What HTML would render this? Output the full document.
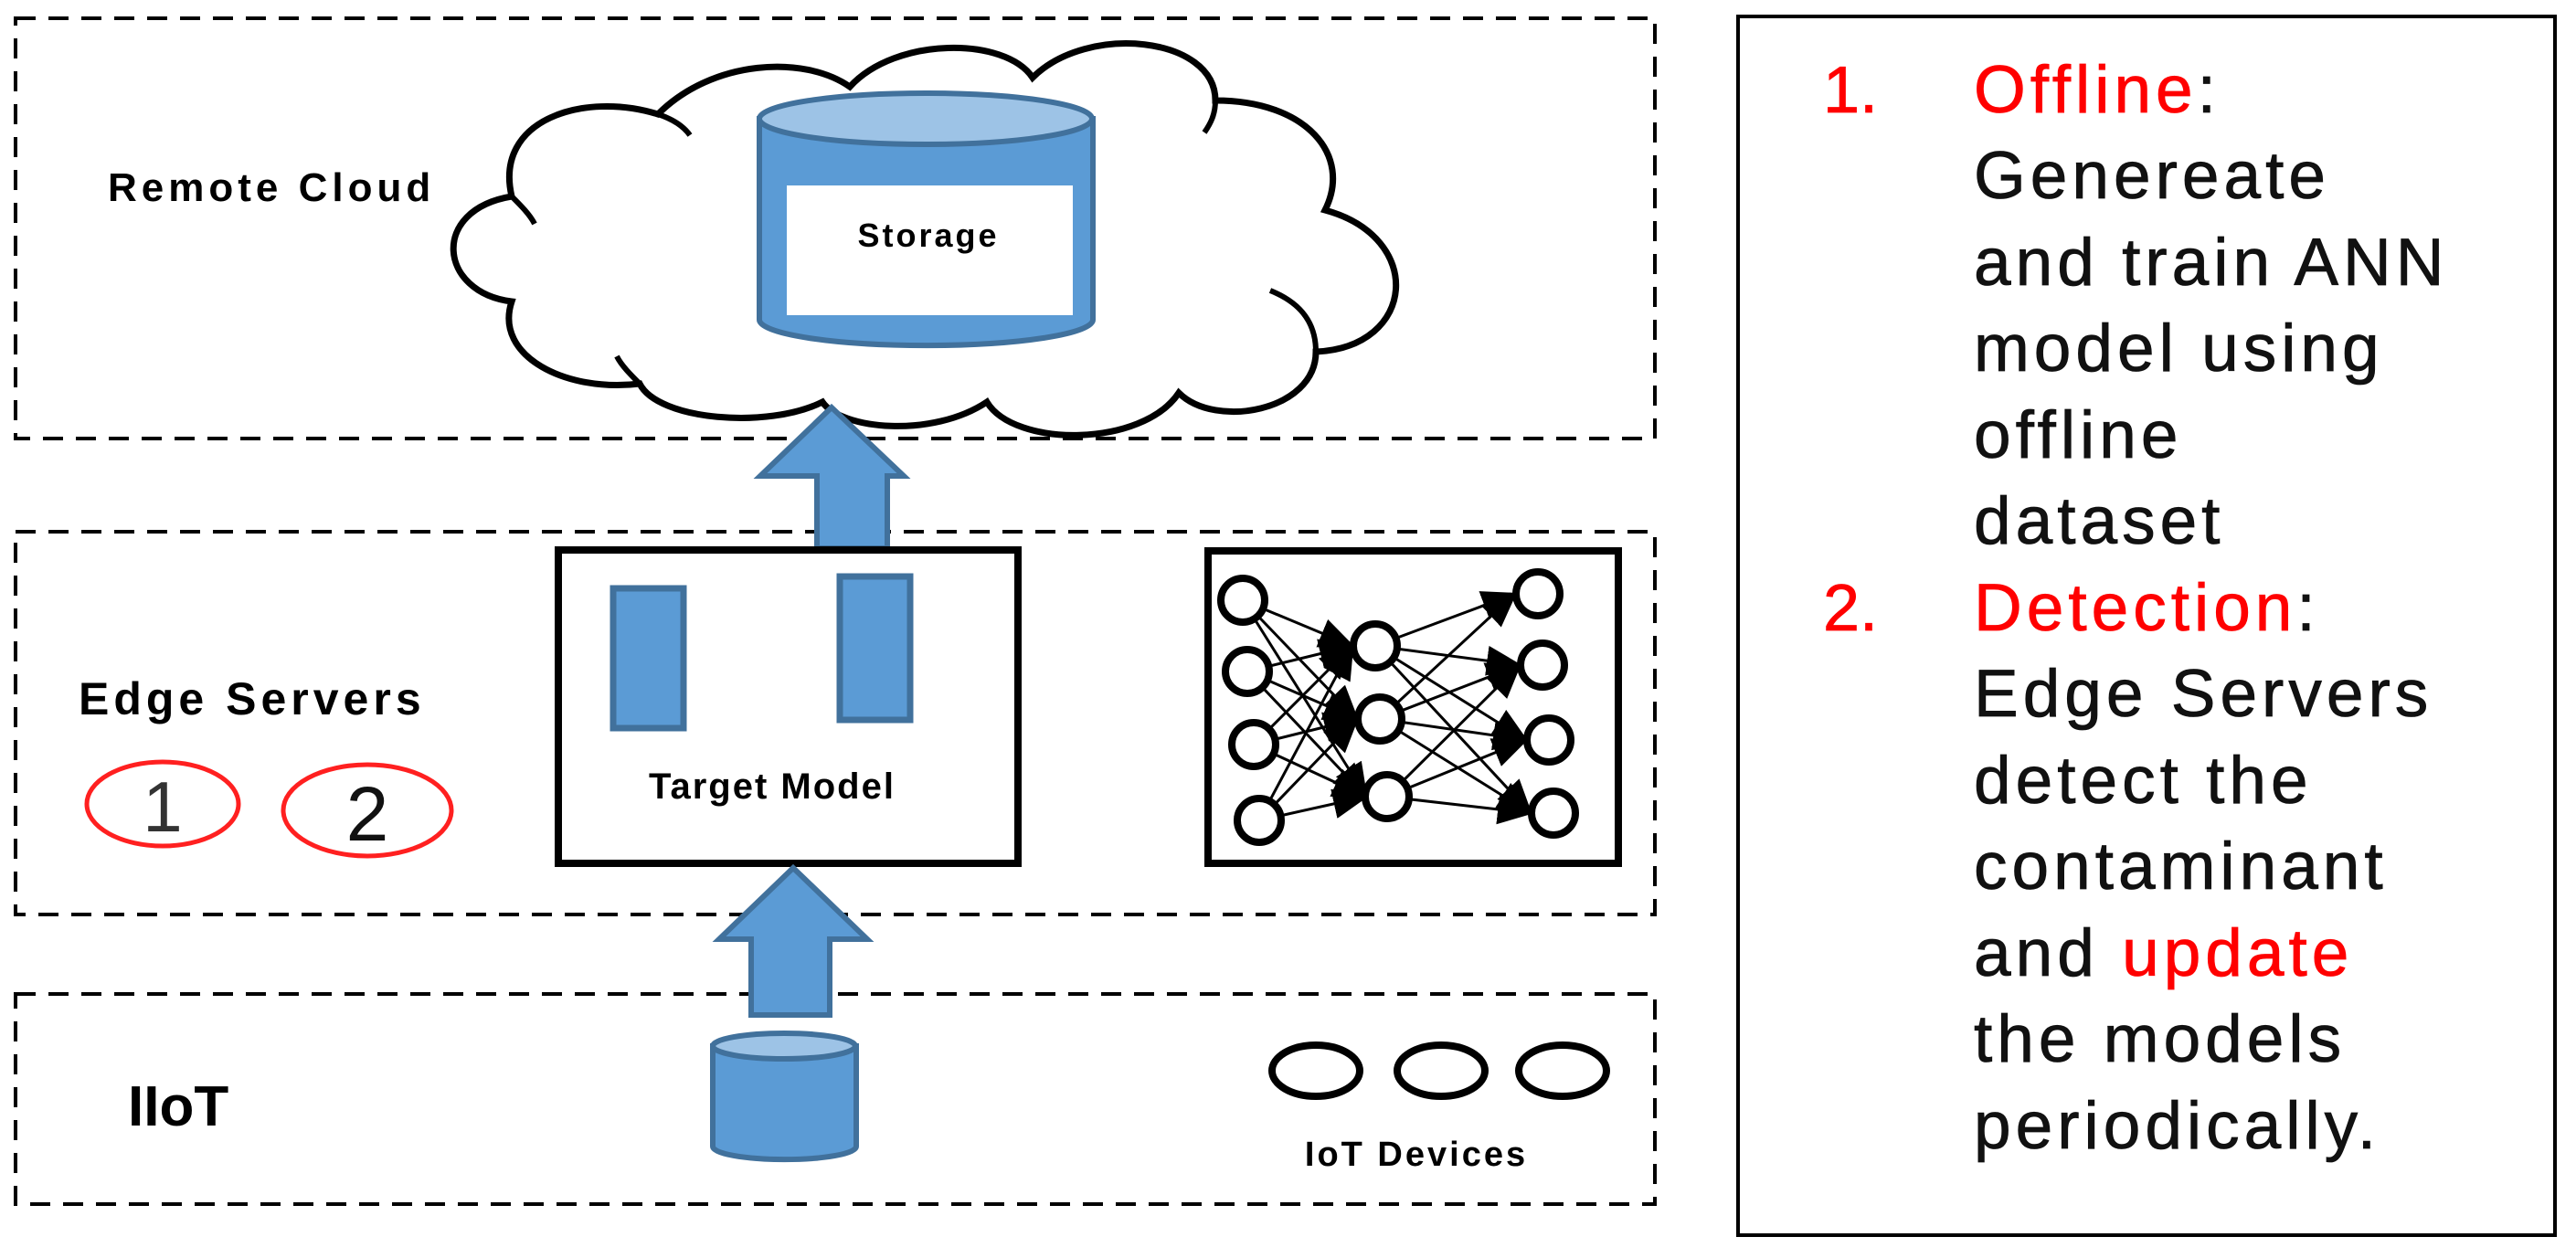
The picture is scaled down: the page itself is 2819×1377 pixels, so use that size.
<!DOCTYPE html>
<html><head><meta charset="utf-8"><style>
html,body{margin:0;padding:0;background:#fff;}
body{width:2819px;height:1377px;position:relative;overflow:hidden;font-family:"Liberation Sans",sans-serif;}
.r{color:#ff0000;}
.line{position:absolute;left:2160px;font-size:73px;letter-spacing:5px;color:#111;line-height:94.5px;height:94.5px;white-space:nowrap;-webkit-text-stroke:0.8px #111;}
.line .r{-webkit-text-stroke:0.8px #ff0000;}
.num{position:absolute;left:1995px;font-size:72px;color:#ff0000;line-height:94.5px;-webkit-text-stroke:0.8px #ff0000;}
</style></head><body>
<svg width="2819" height="1377" viewBox="0 0 2819 1377" style="position:absolute;left:0;top:0">
<defs>
<marker id="ah" markerWidth="13" markerHeight="11" refX="12" refY="5.5" orient="auto" markerUnits="strokeWidth">
<path d="M0,0 L13,5.5 L0,11 Z" fill="#000"/></marker>
</defs>
<g fill="none" stroke="#000" stroke-width="4" stroke-dasharray="22,14">
<rect x="17" y="20" width="1794" height="460"/>
<rect x="17" y="582" width="1794" height="419"/>
<rect x="17" y="1088" width="1794" height="230"/>
</g>
<rect x="1902" y="18" width="894" height="1334" fill="none" stroke="#000" stroke-width="4"/>
<!-- cloud -->
<path d="M560,330 C480,320 470,230 560,215 C540,130 640,100 720,125 C780,65 880,60 930,95 C980,40 1100,40 1130,85 C1190,25 1330,40 1330,110 C1430,110 1480,170 1450,230 C1560,260 1550,380 1440,385 C1440,450 1330,470 1290,430 C1250,490 1110,490 1080,440 C1020,480 920,470 900,440 C840,470 720,460 700,420 C620,430 540,390 560,330 Z" fill="#fff" stroke="#000" stroke-width="7"/>
<g fill="none" stroke="#000" stroke-width="6">
<path d="M560,215 C570,225 580,235 585,245"/>
<path d="M720,125 C735,130 748,138 755,148"/>
<path d="M1330,110 C1330,125 1325,135 1318,145"/>
<path d="M1440,385 C1440,350 1420,330 1390,318"/>
<path d="M700,420 C690,410 680,400 675,390"/>
</g>
<!-- storage cylinder -->
<path d="M831,130 L831,350 A182,28 0 0 0 1196,350 L1196,130 Z" fill="#5b9bd5" stroke="#41719c" stroke-width="6"/>
<ellipse cx="1013" cy="130" rx="182" ry="28" fill="#9dc3e6" stroke="#41719c" stroke-width="6"/>
<rect x="861" y="203" width="313" height="142" fill="#fff"/>
<text x="1016" y="270" font-family="Liberation Sans,sans-serif" font-weight="bold" font-size="36" text-anchor="middle" letter-spacing="3">Storage</text>
<!-- up arrow top -->
<path d="M910,446 L989,521 L971,521 L971,600 L894,600 L894,521 L832,521 Z" fill="#5b9bd5" stroke="#41719c" stroke-width="6"/>
<!-- target model box -->
<rect x="611" y="602" width="503" height="343" fill="#fff" stroke="#000" stroke-width="8"/>
<rect x="671" y="644" width="77" height="153" fill="#5b9bd5" stroke="#41719c" stroke-width="7"/>
<rect x="919" y="631" width="77" height="157" fill="#5b9bd5" stroke="#41719c" stroke-width="7"/>
<text x="845" y="874" font-family="Liberation Sans,sans-serif" font-weight="bold" font-size="40" text-anchor="middle" letter-spacing="2">Target Model</text>
<!-- NN box -->
<rect x="1322" y="603" width="449" height="342" fill="#fff" stroke="#000" stroke-width="8"/>
<g stroke="#000" stroke-width="3" fill="none">
<line x1="1360" y1="657" x2="1480" y2="707" marker-end="url(#ah)"/>
<line x1="1360" y1="657" x2="1485" y2="787" marker-end="url(#ah)"/>
<line x1="1360" y1="657" x2="1495" y2="872" marker-end="url(#ah)"/>
<line x1="1365" y1="735" x2="1480" y2="707" marker-end="url(#ah)"/>
<line x1="1365" y1="735" x2="1485" y2="787" marker-end="url(#ah)"/>
<line x1="1365" y1="735" x2="1495" y2="872" marker-end="url(#ah)"/>
<line x1="1372" y1="815" x2="1480" y2="707" marker-end="url(#ah)"/>
<line x1="1372" y1="815" x2="1485" y2="787" marker-end="url(#ah)"/>
<line x1="1372" y1="815" x2="1495" y2="872" marker-end="url(#ah)"/>
<line x1="1378" y1="898" x2="1480" y2="707" marker-end="url(#ah)"/>
<line x1="1378" y1="898" x2="1485" y2="787" marker-end="url(#ah)"/>
<line x1="1378" y1="898" x2="1495" y2="872" marker-end="url(#ah)"/>
<line x1="1505" y1="707" x2="1658" y2="650" marker-end="url(#ah)"/>
<line x1="1505" y1="707" x2="1663" y2="728" marker-end="url(#ah)"/>
<line x1="1505" y1="707" x2="1670" y2="810" marker-end="url(#ah)"/>
<line x1="1505" y1="707" x2="1675" y2="890" marker-end="url(#ah)"/>
<line x1="1510" y1="787" x2="1658" y2="650" marker-end="url(#ah)"/>
<line x1="1510" y1="787" x2="1663" y2="728" marker-end="url(#ah)"/>
<line x1="1510" y1="787" x2="1670" y2="810" marker-end="url(#ah)"/>
<line x1="1510" y1="787" x2="1675" y2="890" marker-end="url(#ah)"/>
<line x1="1518" y1="872" x2="1663" y2="728" marker-end="url(#ah)"/>
<line x1="1518" y1="872" x2="1670" y2="810" marker-end="url(#ah)"/>
<line x1="1518" y1="872" x2="1675" y2="890" marker-end="url(#ah)"/>
</g>
<g fill="#fff" stroke="#000" stroke-width="8">
<circle cx="1360" cy="657" r="24"/><circle cx="1365" cy="735" r="24"/><circle cx="1372" cy="815" r="24"/><circle cx="1378" cy="898" r="24"/>
<circle cx="1505" cy="707" r="24"/><circle cx="1510" cy="787" r="24"/><circle cx="1518" cy="872" r="24"/>
<circle cx="1683" cy="650" r="24"/><circle cx="1688" cy="728" r="24"/><circle cx="1695" cy="810" r="24"/><circle cx="1700" cy="890" r="24"/>
</g>
<!-- lower arrow -->
<path d="M868,950 L949,1028 L908,1028 L908,1111 L822,1111 L822,1028 L787,1028 Z" fill="#5b9bd5" stroke="#41719c" stroke-width="6"/>
<!-- small cylinder -->
<path d="M780,1145 L780,1255 A78,14 0 0 0 937,1255 L937,1145 Z" fill="#5b9bd5" stroke="#41719c" stroke-width="6"/>
<ellipse cx="858" cy="1145" rx="78" ry="14" fill="#9dc3e6" stroke="#41719c" stroke-width="6"/>
<!-- red ellipses -->
<ellipse cx="178" cy="880" rx="83" ry="46" fill="none" stroke="#ff2020" stroke-width="5"/>
<ellipse cx="402" cy="887" rx="92" ry="50" fill="none" stroke="#ff2020" stroke-width="5"/>
<text x="178" y="910" font-family="Liberation Sans,sans-serif" font-size="78" text-anchor="middle" fill="#333">1</text>
<text x="402" y="920" font-family="Liberation Sans,sans-serif" font-size="84" text-anchor="middle" fill="#111">2</text>
<!-- IoT devices -->
<g fill="none" stroke="#000" stroke-width="8">
<ellipse cx="1440" cy="1172" rx="48" ry="28"/>
<ellipse cx="1577" cy="1172" rx="48" ry="28"/>
<ellipse cx="1710" cy="1172" rx="48" ry="28"/>
</g>
<text x="1550" y="1276" font-family="Liberation Sans,sans-serif" font-weight="bold" font-size="38" text-anchor="middle" letter-spacing="3">IoT Devices</text>
<text x="118" y="220" font-family="Liberation Sans,sans-serif" font-weight="bold" font-size="44" letter-spacing="5">Remote Cloud</text>
<text x="86" y="782" font-family="Liberation Sans,sans-serif" font-weight="bold" font-size="50" letter-spacing="5">Edge Servers</text>
<text x="140" y="1232" font-family="Liberation Sans,sans-serif" font-weight="bold" font-size="62">IIoT</text>
</svg>
<div class="num" style="top:52px">1.</div>
<div class="line" style="top:52px"><span class="r">Offline</span>:</div>
<div class="line" style="top:146px">Genereate</div>
<div class="line" style="top:241px">and train ANN</div>
<div class="line" style="top:335px">model using</div>
<div class="line" style="top:430px">offline</div>
<div class="line" style="top:524px">dataset</div>
<div class="num" style="top:619px">2.</div>
<div class="line" style="top:619px"><span class="r">Detection</span>:</div>
<div class="line" style="top:713px">Edge Servers</div>
<div class="line" style="top:808px">detect the</div>
<div class="line" style="top:902px">contaminant</div>
<div class="line" style="top:997px">and <span class="r">update</span></div>
<div class="line" style="top:1091px">the models</div>
<div class="line" style="top:1186px">periodically.</div>
</body></html>
